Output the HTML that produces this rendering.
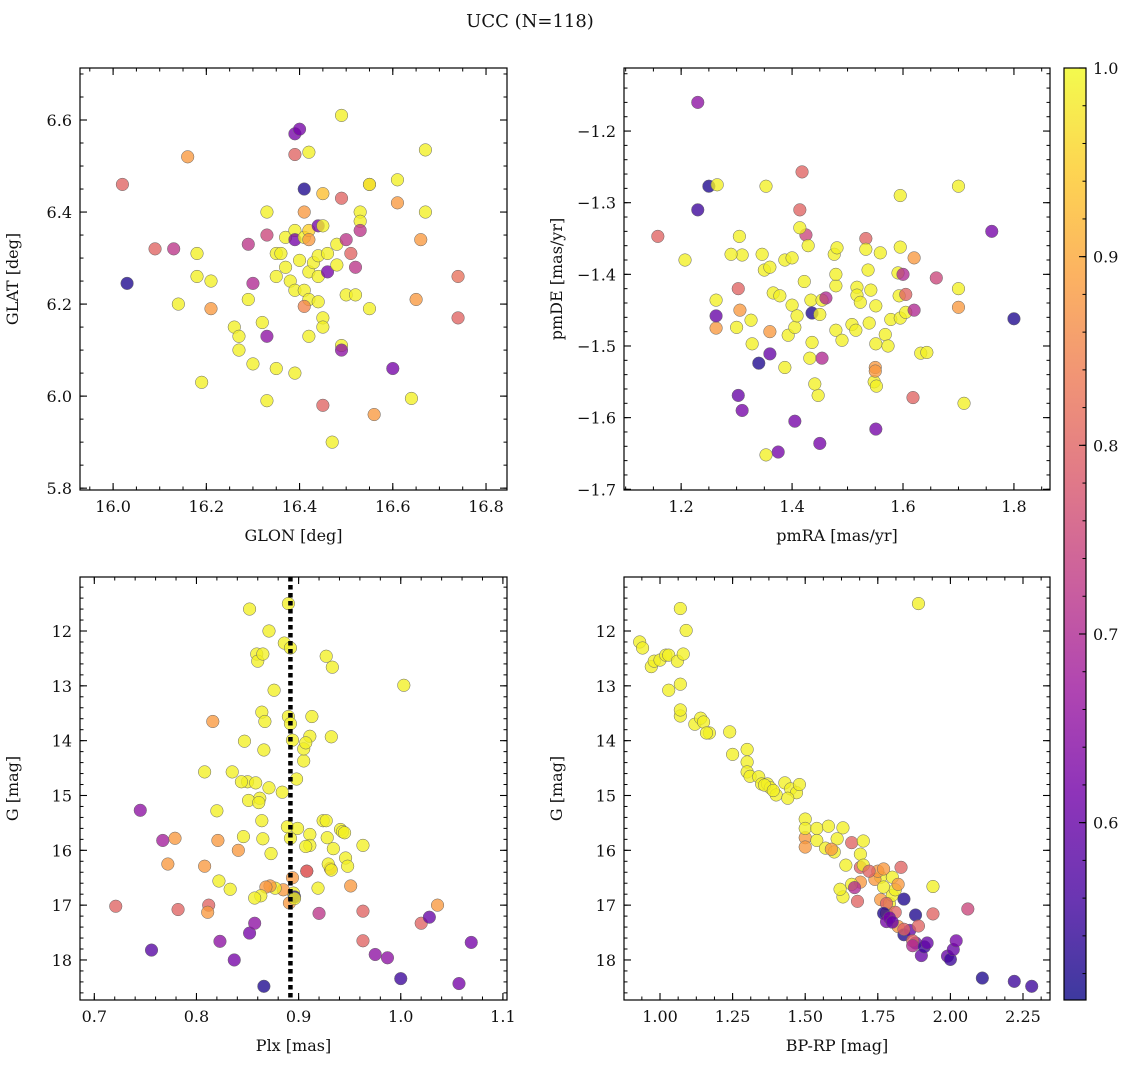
<!DOCTYPE html>
<html><head><meta charset="utf-8">
<style>
body{margin:0;background:#fff;}
svg text{font-family:"DejaVu Serif","Liberation Serif",serif;fill:#111;}
</style></head>
<body>
<svg id="fig" width="1136" height="1067" viewBox="0 0 1136 1067" xmlns="http://www.w3.org/2000/svg">
<text x="530" y="27" font-size="18" text-anchor="middle">UCC (N=118)</text>
</svg>
<script>
const p1x=[16.03,16.02,16.09,16.13,16.16,16.14,16.18,16.18,16.21,16.21,16.19,16.26,16.27,16.27,16.29,16.30,16.29,16.33,16.32,16.33,16.33,16.30,16.33,16.35,16.39,16.35,16.36,16.35,16.37,16.38,16.39,16.37,16.39,16.39,16.41,16.41,16.39,16.40,16.39,16.42,16.49,16.41,16.45,16.42,16.42,16.44,16.40,16.42,16.41,16.43,16.44,16.44,16.42,16.44,16.41,16.45,16.45,16.42,16.46,16.46,16.48,16.49,16.45,16.48,16.50,16.51,16.50,16.53,16.53,16.53,16.52,16.52,16.49,16.49,16.45,16.47,16.55,16.55,16.55,16.60,16.56,16.64,16.61,16.61,16.67,16.67,16.66,16.65,16.74,16.74];
const p1y=[6.245,6.46,6.32,6.32,6.52,6.20,6.31,6.26,6.25,6.19,6.03,6.15,6.13,6.10,6.21,6.245,6.33,6.35,6.16,6.13,6.40,6.07,5.99,6.06,6.05,6.31,6.31,6.26,6.28,6.25,6.23,6.345,6.36,6.34,6.345,6.45,6.57,6.58,6.525,6.53,6.61,6.40,6.44,6.36,6.34,6.37,6.295,6.27,6.23,6.29,6.305,6.26,6.21,6.205,6.195,6.17,6.15,6.13,6.27,6.31,6.285,6.43,6.37,6.33,6.34,6.31,6.22,6.40,6.38,6.36,6.28,6.22,6.11,6.10,5.98,5.90,6.46,6.46,6.19,6.06,5.96,5.995,6.47,6.42,6.535,6.40,6.34,6.21,6.26,6.17];
const p1c=[0.52,0.8,0.8,0.72,0.88,0.99,0.99,0.99,0.99,0.88,0.99,0.99,0.99,0.99,0.99,0.7,0.72,0.75,0.99,0.65,0.99,0.99,0.99,0.99,0.99,0.99,0.99,0.99,0.99,0.99,0.99,0.99,0.99,0.62,0.99,0.52,0.62,0.62,0.8,0.99,0.99,0.88,0.93,0.95,0.88,0.62,0.99,0.99,0.99,0.99,0.99,0.99,0.99,0.99,0.85,0.99,0.99,0.99,0.62,0.99,0.99,0.8,0.99,0.99,0.72,0.8,0.99,0.99,0.99,0.72,0.72,0.99,0.99,0.65,0.8,0.99,0.88,0.99,0.99,0.62,0.88,0.99,0.99,0.88,0.99,0.99,0.88,0.88,0.82,0.8];
const p2x=[1.23,1.23,1.25,1.265,1.353,1.158,1.207,1.263,1.263,1.263,1.303,1.31,1.305,1.29,1.346,1.35,1.36,1.306,1.30,1.326,1.328,1.303,1.31,1.36,1.34,1.36,1.366,1.378,1.387,1.40,1.40,1.414,1.418,1.425,1.429,1.414,1.387,1.393,1.405,1.409,1.422,1.434,1.436,1.436,1.432,1.45,1.454,1.447,1.441,1.479,1.479,1.479,1.476,1.481,1.405,1.375,1.353,1.49,1.461,1.454,1.508,1.515,1.517,1.517,1.523,1.539,1.542,1.537,1.551,1.548,1.45,1.551,1.568,1.551,1.573,1.578,1.533,1.533,1.559,1.595,1.593,1.595,1.591,1.605,1.605,1.55,1.55,1.552,1.618,1.60,1.62,1.632,1.643,1.66,1.70,1.70,1.70,1.71,1.76,1.80,1.62,1.595];
const p2y=[-1.16,-1.31,-1.277,-1.275,-1.277,-1.347,-1.38,-1.436,-1.475,-1.458,-1.42,-1.373,-1.347,-1.372,-1.372,-1.394,-1.39,-1.45,-1.474,-1.464,-1.497,-1.569,-1.59,-1.511,-1.524,-1.48,-1.426,-1.43,-1.38,-1.377,-1.443,-1.31,-1.257,-1.345,-1.36,-1.335,-1.53,-1.485,-1.474,-1.458,-1.41,-1.436,-1.454,-1.495,-1.517,-1.456,-1.436,-1.569,-1.553,-1.416,-1.40,-1.478,-1.372,-1.363,-1.605,-1.648,-1.652,-1.492,-1.433,-1.517,-1.47,-1.478,-1.418,-1.429,-1.439,-1.468,-1.422,-1.394,-1.444,-1.55,-1.636,-1.616,-1.484,-1.497,-1.50,-1.463,-1.35,-1.365,-1.37,-1.362,-1.43,-1.461,-1.398,-1.428,-1.453,-1.53,-1.535,-1.556,-1.572,-1.40,-1.45,-1.51,-1.509,-1.405,-1.277,-1.42,-1.446,-1.58,-1.34,-1.462,-1.377,-1.29];
const p2c=[0.65,0.55,0.52,0.99,0.99,0.8,0.99,0.99,0.88,0.6,0.8,0.99,0.99,0.99,0.99,0.99,0.99,0.88,0.99,0.99,0.99,0.6,0.62,0.6,0.52,0.88,0.99,0.99,0.99,0.99,0.99,0.8,0.8,0.75,0.99,0.99,0.99,0.99,0.99,0.99,0.99,0.99,0.52,0.99,0.99,0.99,0.99,0.99,0.99,0.99,0.99,0.99,0.99,0.99,0.62,0.62,0.99,0.99,0.7,0.7,0.99,0.99,0.99,0.99,0.99,0.99,0.99,0.99,0.99,0.99,0.62,0.62,0.99,0.99,0.99,0.99,0.8,0.99,0.99,0.99,0.99,0.99,0.99,0.8,0.99,0.88,0.88,0.99,0.8,0.7,0.7,0.99,0.99,0.75,0.99,0.99,0.88,0.99,0.62,0.52,0.88,0.99];
const p3x=[0.852,0.890,0.871,0.859,0.860,0.865,0.886,0.892,0.927,0.933,0.876,1.003,0.864,0.867,0.890,0.892,0.847,0.866,0.894,0.913,0.911,0.816,0.850,0.871,0.905,0.905,0.907,0.932,0.835,0.844,0.858,0.808,0.862,0.884,0.898,0.851,0.861,0.820,0.821,0.846,0.865,0.864,0.873,0.889,0.892,0.899,0.911,0.924,0.927,0.941,0.943,0.945,0.928,0.934,0.931,0.911,0.907,0.908,0.841,0.908,0.895,0.963,0.929,0.932,0.946,0.948,0.951,0.919,0.885,0.891,0.896,0.877,0.872,0.868,0.863,0.857,0.833,0.822,0.779,0.772,0.808,0.812,0.811,0.782,0.721,0.745,0.767,0.756,0.823,0.837,0.852,0.857,0.866,0.896,0.920,0.963,0.963,0.975,0.987,1.000,1.020,1.028,1.036,1.057,1.069,0.894];
const p3y=[11.6,11.5,12.0,12.42,12.55,12.42,12.22,12.31,12.46,12.66,13.08,12.99,13.48,13.65,13.56,13.69,14.01,14.17,13.99,13.56,13.92,13.65,14.75,14.86,14.37,14.15,14.04,13.93,14.57,14.75,14.77,14.57,15.05,14.94,14.70,15.09,15.13,15.28,15.82,15.75,15.79,15.46,16.06,15.57,15.78,15.60,15.71,15.46,15.46,15.62,15.66,15.68,15.77,15.97,16.33,15.91,15.93,16.38,16.0,16.38,16.78,15.91,16.25,16.36,16.14,16.29,16.65,16.69,16.72,16.96,16.85,16.69,16.65,16.67,16.83,16.87,16.71,16.56,15.78,16.25,16.29,17.0,17.13,17.08,17.02,15.27,15.82,17.82,17.66,18.0,17.51,17.33,18.48,16.88,17.15,17.11,17.65,17.90,17.96,18.34,17.33,17.22,17.0,18.43,17.68,16.5];
const p3c=[0.99,0.99,0.99,0.99,0.99,0.99,0.99,0.99,0.99,0.99,0.99,0.99,0.99,0.99,0.99,0.99,0.99,0.99,0.99,0.99,0.99,0.88,0.99,0.99,0.99,0.99,0.99,0.99,0.99,0.99,0.99,0.99,0.99,0.99,0.99,0.99,0.99,0.99,0.88,0.99,0.99,0.99,0.99,0.99,0.99,0.99,0.99,0.99,0.99,0.99,0.99,0.99,0.99,0.99,0.88,0.99,0.99,0.8,0.88,0.8,0.99,0.99,0.99,0.99,0.99,0.99,0.88,0.99,0.88,0.88,0.52,0.99,0.88,0.88,0.99,0.99,0.99,0.99,0.88,0.88,0.88,0.8,0.88,0.8,0.8,0.65,0.68,0.58,0.65,0.62,0.62,0.65,0.52,0.99,0.72,0.8,0.8,0.65,0.65,0.55,0.8,0.6,0.88,0.62,0.62,0.88];
const p4x=[0.93,0.94,0.97,0.98,1.00,1.02,1.03,1.06,1.08,1.03,1.07,1.09,1.07,1.07,1.07,1.12,1.14,1.17,1.15,1.16,1.24,1.25,1.30,1.30,1.30,1.31,1.34,1.35,1.37,1.38,1.40,1.43,1.45,1.47,1.36,1.39,1.48,1.44,1.50,1.50,1.50,1.50,1.54,1.54,1.57,1.58,1.60,1.61,1.63,1.59,1.66,1.64,1.69,1.69,1.70,1.70,1.76,1.69,1.66,1.63,1.62,1.74,1.75,1.77,1.76,1.78,1.79,1.80,1.81,1.80,1.82,1.78,1.81,1.82,1.83,1.72,1.77,1.84,1.86,1.88,1.94,1.94,1.77,1.78,1.68,1.67,1.79,1.80,1.84,1.84,1.88,1.87,1.90,1.87,1.89,1.91,1.92,1.99,2.00,2.01,2.02,2.06,2.11,2.22,2.28,1.89];
const p4y=[12.2,12.31,12.65,12.55,12.53,12.44,12.44,12.55,12.42,13.08,12.97,11.99,11.59,13.55,13.44,13.7,13.59,13.86,13.66,13.86,13.84,14.25,14.16,14.39,14.57,14.65,14.66,14.79,14.79,14.86,14.99,14.77,14.88,14.95,14.81,14.91,14.8,15.05,15.43,15.77,15.6,15.94,15.6,15.82,15.96,15.56,16.03,15.79,15.59,15.98,15.86,16.27,16.07,16.31,15.83,16.27,16.49,16.58,16.62,16.85,16.71,16.53,16.38,16.67,16.90,17.15,16.97,16.82,16.72,16.49,16.62,16.97,17.13,17.39,16.31,16.38,16.34,17.54,17.46,17.18,16.66,17.16,17.15,17.30,16.93,16.68,17.23,17.31,16.89,17.44,17.69,17.65,17.92,17.74,17.38,17.76,17.69,17.93,17.99,17.81,17.65,17.07,18.33,18.39,18.48,11.5];
const p4c=[0.99,0.99,0.99,0.99,0.99,0.99,0.99,0.99,0.99,0.99,0.99,0.99,0.99,0.99,0.99,0.99,0.99,0.99,0.99,0.99,0.99,0.99,0.99,0.99,0.99,0.99,0.99,0.99,0.99,0.99,0.99,0.99,0.99,0.99,0.99,0.99,0.99,0.99,0.99,0.88,0.99,0.88,0.99,0.99,0.99,0.99,0.99,0.99,0.99,0.88,0.8,0.99,0.99,0.8,0.99,0.99,0.99,0.88,0.99,0.99,0.99,0.88,0.88,0.99,0.88,0.88,0.99,0.99,0.99,0.99,0.88,0.8,0.8,0.88,0.8,0.8,0.88,0.52,0.6,0.52,0.99,0.8,0.52,0.62,0.8,0.7,0.62,0.6,0.52,0.8,0.62,0.8,0.6,0.7,0.8,0.55,0.6,0.6,0.55,0.6,0.62,0.75,0.52,0.55,0.55,0.99];
const cbTicks=[0.6,0.7,0.8,0.9,1.0];

const VMIN=0.506,VMAX=1.0;
const stops=["#0d0887","#46039f","#7201a8","#9c179e","#bd3786","#d8576b","#ed7953","#fb9f3a","#fdca26","#f0f921"];
function plasma(v){let t=Math.max(0,Math.min(1,(v-VMIN)/(VMAX-VMIN)))*(stops.length-1);let i=Math.min(stops.length-2,Math.floor(t)),f=t-i;
 const a=stops[i],b=stops[i+1];const c=k=>Math.round(parseInt(a.substr(k,2),16)*(1-f)+parseInt(b.substr(k,2),16)*f);
 return `rgb(${c(1)},${c(3)},${c(5)})`;}
const NS="http://www.w3.org/2000/svg";const svg=document.getElementById('fig');
function el(tag,at,parent){const e=document.createElementNS(NS,tag);for(const k in at)e.setAttribute(k,at[k]);(parent||svg).appendChild(e);return e;}
function fmt(v,d){return (v<0?"\u2212":"")+Math.abs(v).toFixed(d);}

const panels=[
 {name:'glon-glat',L:80,R:507,T:68,B:490,x0:15.929,x1:16.845,y0:5.796,y1:6.713,inv:false,xt:[16.0,16.2,16.4,16.6,16.8],xd:1,xm:0.05,yt:[5.8,6.0,6.2,6.4,6.6],yd:1,ym:0.05,xl:'GLON [deg]',yl:'GLAT [deg]',X:p1x,Y:p1y,C:p1c},
 {name:'pmra-pmde',L:624,R:1050,T:68,B:490,x0:1.097,x1:1.865,y0:-1.701,y1:-1.112,inv:false,xt:[1.2,1.4,1.6,1.8],xd:1,xm:0.05,yt:[-1.7,-1.6,-1.5,-1.4,-1.3,-1.2],yd:1,ym:0.02,xl:'pmRA [mas/yr]',yl:'pmDE [mas/yr]',X:p2x,Y:p2y,C:p2c},
 {name:'plx-g',L:80,R:507,T:577,B:1000,x0:0.686,x1:1.104,y0:11.015,y1:18.73,inv:true,xt:[0.7,0.8,0.9,1.0,1.1],xd:1,xm:0.02,yt:[12,13,14,15,16,17,18],yd:0,ym:0.2,xl:'Plx [mas]',yl:'G [mag]',X:p3x,Y:p3y,C:p3c,vline:0.892},
 {name:'bprp-g',L:624,R:1050,T:577,B:1000,x0:0.876,x1:2.343,y0:11.015,y1:18.73,inv:true,xt:[1.0,1.25,1.5,1.75,2.0,2.25],xd:2,xm:0.0625,yt:[12,13,14,15,16,17,18],yd:0,ym:0.2,xl:'BP-RP [mag]',yl:'G [mag]',X:p4x,Y:p4y,C:p4c}
];
panels.forEach(P=>{
 const g=el('g',{});
 
 
 const sx=v=>P.L+(v-P.x0)/(P.x1-P.x0)*(P.R-P.L);
 const sy=P.inv?(v=>P.T+(v-P.y0)/(P.y1-P.y0)*(P.B-P.T)):(v=>P.B-(v-P.y0)/(P.y1-P.y0)*(P.B-P.T));
 for(let i=0;i<P.X.length;i++){
  const c=el('circle',{cx:sx(P.X[i]),cy:sy(P.Y[i]),r:6.3,fill:plasma(P.C[i]),'fill-opacity':0.78,stroke:'#666','stroke-width':0.5},g);
  
  
 }
 if(P.vline!==undefined){const l=el('line',{x1:sx(P.vline),x2:sx(P.vline),y1:P.T,y2:P.B,stroke:'#000','stroke-width':4.5,'stroke-dasharray':'4.5 3.5'},g);
  
  }
 const fr=el('rect',{x:P.L,y:P.T,width:P.R-P.L,height:P.B-P.T,fill:'none',stroke:'#000','stroke-width':1.2},g);
 
 
 for(let v=Math.ceil(P.x0/P.xm)*P.xm;v<=P.x1;v+=P.xm){const x=sx(v);el('line',{x1:x,x2:x,y1:P.B,y2:P.B-3.5,stroke:'#000'},g);el('line',{x1:x,x2:x,y1:P.T,y2:P.T+3.5,stroke:'#000'},g);}
 const ylo=Math.min(P.y0,P.y1),yhi=Math.max(P.y0,P.y1);
 for(let v=Math.ceil(ylo/P.ym)*P.ym;v<=yhi;v+=P.ym){const y=sy(v);el('line',{x1:P.L,x2:P.L+3.5,y1:y,y2:y,stroke:'#000'},g);el('line',{x1:P.R,x2:P.R-3.5,y1:y,y2:y,stroke:'#000'},g);}
 P.xt.forEach(v=>{const x=sx(v);el('line',{x1:x,x2:x,y1:P.B,y2:P.B-7,stroke:'#000','stroke-width':1.1},g);el('line',{x1:x,x2:x,y1:P.T,y2:P.T+7,stroke:'#000','stroke-width':1.1},g);
  const t=el('text',{x:x,y:P.B+22,'font-size':16,'text-anchor':'middle'},g);t.textContent=fmt(v,P.xd);
  
  });
 P.yt.forEach(v=>{const y=sy(v);el('line',{x1:P.L,x2:P.L+7,y1:y,y2:y,stroke:'#000','stroke-width':1.1},g);el('line',{x1:P.R,x2:P.R-7,y1:y,y2:y,stroke:'#000','stroke-width':1.1},g);
  const t=el('text',{x:P.L-8,y:y+6,'font-size':16,'text-anchor':'end'},g);t.textContent=fmt(v,P.yd);
  
  });
 const xl=el('text',{x:(P.L+P.R)/2,y:P.B+51,'font-size':16,'text-anchor':'middle'},g);xl.textContent=P.xl;
 
 
 const yx=P.L-62,yy=(P.T+P.B)/2;
 const yl=el('text',{x:yx,y:yy,'font-size':16,'text-anchor':'middle',transform:`rotate(-90 ${yx} ${yy})`},g);yl.textContent=P.yl;
 
 
});
const CB={L:1064,R:1086,T:68,B:1000};
const cg=el('g',{});


const defs=el('defs',{},cg);const lg=el('linearGradient',{id:'cbg',x1:0,y1:1,x2:0,y2:0},defs);
stops.forEach((s,i)=>el('stop',{offset:i/(stops.length-1),'stop-color':s},lg));
el('rect',{x:CB.L,y:CB.T,width:CB.R-CB.L,height:CB.B-CB.T,fill:'url(#cbg)','fill-opacity':0.8},cg);
el('rect',{x:CB.L,y:CB.T,width:CB.R-CB.L,height:CB.B-CB.T,fill:'none',stroke:'#000','stroke-width':1.2},cg);
const cy=v=>CB.B-(v-VMIN)/(VMAX-VMIN)*(CB.B-CB.T);
for(let v=0.52;v<=1.0001;v+=0.02){el('line',{x1:CB.R,x2:CB.R-3.5,y1:cy(v),y2:cy(v),stroke:'#000'},cg);}
cbTicks.forEach(v=>{const y=cy(v);el('line',{x1:CB.R,x2:CB.R-7,y1:y,y2:y,stroke:'#000','stroke-width':1.1},cg);
 const t=el('text',{x:CB.R+7,y:y+6,'font-size':16},cg);t.textContent=v.toFixed(1);
 
 });
</script>
</body></html>
